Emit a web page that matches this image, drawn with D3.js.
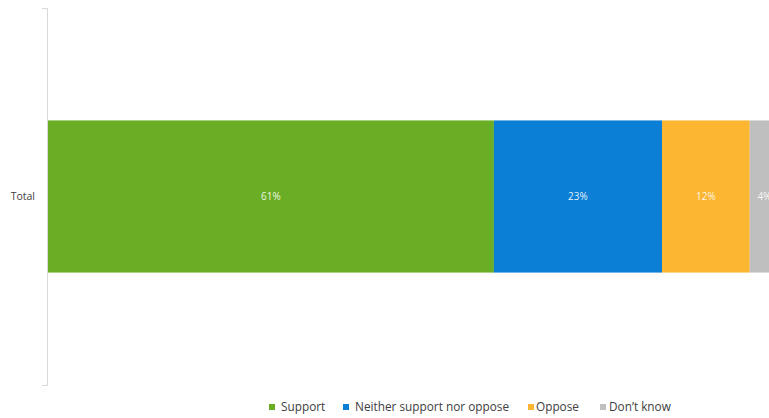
<!DOCTYPE html>
<html>
<head>
<meta charset="utf-8">
<script src="https://cdn.jsdelivr.net/npm/d3@7"></script>
<style>
  html, body { margin: 0; padding: 0; background: #fff; }
  svg { display: block; font-family: "Open Sans", "Liberation Sans", sans-serif; }
</style>
</head>
<body>
<svg id="chart" width="769" height="418"></svg>
<script>
// Survey response shares, in percent
const categories = ["Total"];
const seriesNames = ["Support", "Neither support nor oppose", "Oppose", "Don't know"];
const seriesValues = [[61], [23], [12], [4]];
const seriesColors = ["#69ae24", "#0b7fd5", "#fcb631", "#bfbfbf"];
const legendLabels = ["Support", "Neither support nor oppose", "Oppose", "Don\u2019t know"];

const svg = d3.select("#chart");

const x = d3.scaleLinear().domain([0, 100]).range([48, 779]);
const y = d3.scaleBand().domain(categories).range([8, 385]).padding(0.425);

// Build stacked rows
const rows = categories.map((c, i) => {
  const r = { category: c };
  seriesNames.forEach((s, j) => { r[s] = seriesValues[j][i]; });
  return r;
});
const stacked = d3.stack().keys(seriesNames)(rows);

const layer = svg.append("g").selectAll("g")
  .data(stacked)
  .join("g")
  .attr("fill", (d, i) => seriesColors[i]);

layer.selectAll("rect")
  .data(d => d.map(v => ({ v, key: d.key })))
  .join("rect")
  .attr("x", d => x(d.v[0]))
  .attr("width", d => x(d.v[1]) - x(d.v[0]))
  .attr("y", d => y(d.v.data.category))
  .attr("height", y.bandwidth());

layer.selectAll("text")
  .data(d => d.map(v => ({ v, key: d.key })))
  .join("text")
  .attr("x", d => (x(d.v[0]) + x(d.v[1])) / 2)
  .attr("y", d => y(d.v.data.category) + y.bandwidth() / 2)
  .attr("dy", "0.35em")
  .attr("text-anchor", "middle")
  .attr("fill", "#ffffff")
  .attr("fill-opacity", 0.9)
  .attr("font-size", 10)
  .text(d => (d.v[1] - d.v[0]) + "%");

// Category axis
const yAxis = svg.append("g")
  .attr("transform", "translate(47,0)")
  .call(d3.axisLeft(y).tickSizeInner(0).tickSizeOuter(5).tickPadding(12));
yAxis.select(".domain").attr("stroke", "#d9d9d9");
yAxis.selectAll(".tick text")
  .attr("fill", "#404040")
  .attr("font-size", 10.5)
  .attr("font-family", "Open Sans, Liberation Sans, sans-serif");

// Legend
const swatchX = [269, 343, 528, 600];
const labelX = [281, 355, 536, 609];
const legend = svg.append("g").selectAll("g")
  .data(legendLabels)
  .join("g");
legend.append("rect")
  .attr("x", (d, i) => swatchX[i])
  .attr("y", 404)
  .attr("width", 6).attr("height", 6)
  .attr("fill", (d, i) => seriesColors[i]);
legend.append("text")
  .attr("x", (d, i) => labelX[i])
  .attr("y", 407).attr("dy", "0.35em")
  .attr("font-size", 11.8)
  .attr("fill", "#404040")
  .text(d => d);
</script>
</body>
</html>
